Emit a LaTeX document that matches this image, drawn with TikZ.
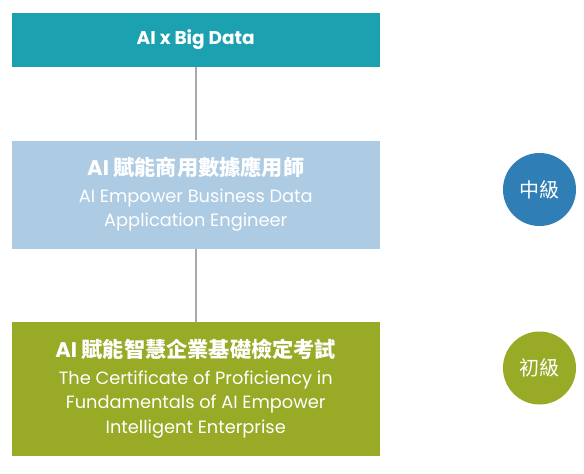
\documentclass[tikz,border=0pt]{standalone}
\usepackage{fontspec}
\setmainfont{Poppins}
\newfontfamily\cjk{Noto Sans CJK TC}
\definecolor{teal1}{HTML}{1BA1B0}
\definecolor{lblue}{HTML}{ADCBE3}
\definecolor{olive}{HTML}{98AA26}
\definecolor{dblue}{HTML}{2F7EB5}
\definecolor{conn}{HTML}{AAAAAA}
\begin{document}
\begin{tikzpicture}[x=1pt,y=-1pt,
  box/.style={draw=none,minimum width=367.5pt,inner sep=0pt,text=white,align=center},
  lvl/.style={circle,minimum size=73pt,inner sep=0pt,text=white,font=\cjk\fontsize{20}{24}\selectfont},
  link/.style={draw=conn,line width=2.5pt}]
\useasboundingbox (0,0) rectangle (584,474);
\node[box,fill=teal1,minimum height=54pt,font=\fontsize{18.5}{20}\selectfont\bfseries] (b1) at (195.75,39.5) {AI x Big Data};
\node[box,fill=lblue,minimum height=108pt,font=\fontsize{17.8}{24.5}\selectfont] (b2) at (195.75,194.5)
  {{\fontsize{21.2}{24}\selectfont\bfseries AI {\cjk 賦能商用數據應用師}}\\[2pt]
   AI Empower Business Data\\ Application Engineer};
\node[box,fill=olive,minimum height=133.2pt,font=\fontsize{17.8}{24.5}\selectfont] (b3) at (195.75,388.9)
  {{\fontsize{21.2}{24}\selectfont\bfseries AI {\cjk 賦能智慧企業基礎檢定考試}}\\[2pt]
   The Certificate of Proficiency in\\ Fundamentals of AI Empower\\ Intelligent Enterprise};
\draw[link] (b1.south) -- (b2.north);
\draw[link] (b2.south) -- (b3.north);
\node[lvl,fill=dblue] (c1) at (539.5,189.5) {中級};
\node[lvl,fill=olive] (c2) at (539.5,368) {初級};
\end{tikzpicture}
\end{document}
